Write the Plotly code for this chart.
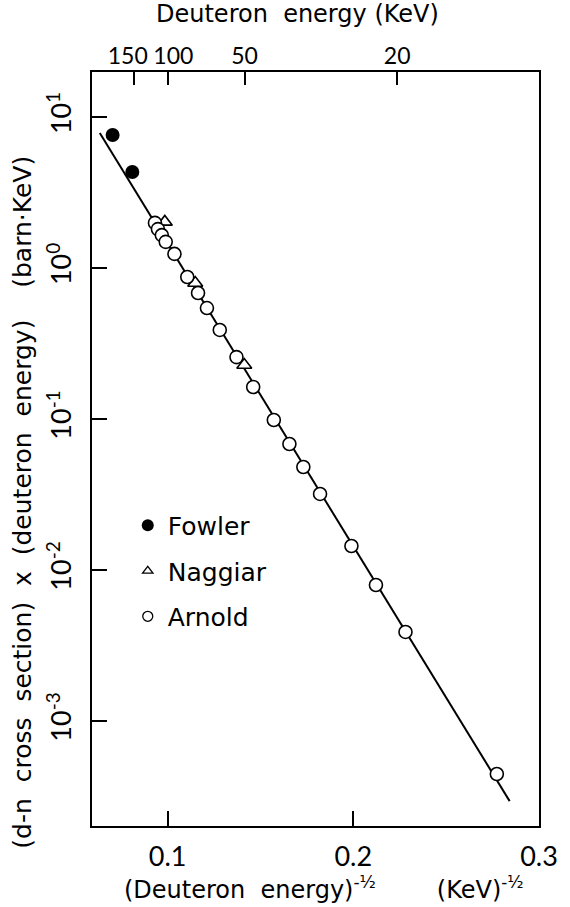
import plotly.graph_objects as go

# ---- data (x = (deuteron energy)^-1/2 in keV^-1/2, y = sigma*E in barn*keV) ----
fowler_x = [0.0704, 0.0810]
fowler_y = [7.60, 4.32]

naggiar_x = [0.0985, 0.1149, 0.1413]
naggiar_y = [2.02, 0.796, 0.228]

arnold_x = [0.0932, 0.0948, 0.0969, 0.0990, 0.1037, 0.1106, 0.1164, 0.1212,
            0.1281, 0.1371, 0.1461, 0.1572, 0.1656, 0.1731, 0.1821, 0.1990,
            0.2122, 0.2281, 0.2773]
arnold_y = [1.99, 1.81, 1.65, 1.49, 1.24, 0.872, 0.683, 0.543,
            0.389, 0.257, 0.163, 0.0985, 0.0683, 0.0481, 0.0319, 0.01442,
            0.00796, 0.00389, 0.000446]

fit_x = [0.0635, 0.2842]
fit_y = [7.83, 0.000295]

bottom_ticks = [0.1, 0.2, 0.3]
bottom_labels = ["0.1", "0.2", "0.3"]
top_energies = [150, 100, 50, 20]
top_labels = ["150\u2002", "\u2002100", "50", "20"]
y_ticks = [1e1, 1e0, 1e-1, 1e-2, 1e-3]
y_labels = ["10<sup>1</sup>", "10<sup>0</sup>", "10<sup>-1</sup>", "10<sup>-2</sup>", "10<sup>-3</sup>"]

FONT = "DejaVu Sans"
NUMFONT = "Lato"
BLACK = "black"

xr = [0.0593, 0.3]
yr_log = [-3.695, 1.298]
top_vals = [e ** -0.5 for e in top_energies]

fig = go.Figure()

fig.add_trace(go.Scatter(x=fit_x, y=fit_y, mode="lines",
                         line=dict(color=BLACK, width=2), showlegend=False,
                         hoverinfo="skip"))
fig.add_trace(go.Scatter(x=fowler_x, y=fowler_y, mode="markers", name="Fowler",
                         marker=dict(symbol="circle", size=14, color=BLACK),
                         showlegend=False))
fig.add_trace(go.Scatter(x=naggiar_x, y=naggiar_y, mode="markers", name="Naggiar",
                         marker=dict(symbol="triangle-up", size=13, color="white",
                                     line=dict(color=BLACK, width=1.6)),
                         showlegend=False))
fig.add_trace(go.Scatter(x=arnold_x, y=arnold_y, mode="markers", name="Arnold",
                         marker=dict(symbol="circle", size=13, color="white",
                                     line=dict(color=BLACK, width=1.6)),
                         showlegend=False))

# legend-only entries (smaller symbols as in the original key)
fig.add_trace(go.Scatter(x=[None], y=[None], mode="markers", name="Fowler",
                         legendgroup="f",
                         marker=dict(symbol="circle", size=12, color=BLACK)))
fig.add_trace(go.Scatter(x=[None], y=[None], mode="markers", name="Naggiar",
                         legendgroup="n",
                         marker=dict(symbol="triangle-up", size=9, color="white",
                                     line=dict(color=BLACK, width=1.3))))
fig.add_trace(go.Scatter(x=[None], y=[None], mode="markers", name="Arnold",
                         legendgroup="a",
                         marker=dict(symbol="circle", size=10, color="white",
                                     line=dict(color=BLACK, width=1.3))))

# invisible trace on top axis so it renders
fig.add_trace(go.Scatter(x=top_vals, y=[1] * len(top_vals),
                         xaxis="x2", mode="markers", marker=dict(opacity=0),
                         showlegend=False, hoverinfo="skip"))

fig.update_layout(
    width=570, height=907,
    margin=dict(l=92, r=25, t=72, b=81),
    paper_bgcolor="white", plot_bgcolor="white",
    font=dict(family=FONT, color=BLACK, size=22),
    xaxis=dict(range=xr, tickmode="array", tickvals=bottom_ticks, ticktext=bottom_labels,
               ticks="inside", ticklen=15, tickwidth=2, tickcolor=BLACK,
               showline=True, linecolor=BLACK, linewidth=1.5, mirror=True,
               showgrid=False, zeroline=False, ticklabelstandoff=6,
               tickfont=dict(size=27, family=NUMFONT)),
    xaxis2=dict(range=xr, overlaying="x", side="top", anchor="y",
                tickmode="array", tickvals=top_vals, ticktext=top_labels,
                ticks="inside", ticklen=13, tickwidth=2, tickcolor=BLACK,
                tickangle=0, showline=False, showgrid=False,
                zeroline=False, ticklabelstandoff=2,
                tickfont=dict(size=23, family=NUMFONT)),
    yaxis=dict(type="log", range=yr_log, tickmode="array",
               tickvals=y_ticks, ticktext=y_labels,
               ticks="inside", ticklen=15, tickwidth=2, tickcolor=BLACK,
               tickangle=-90, showline=True, linecolor=BLACK, linewidth=1.5,
               mirror=True, showgrid=False, zeroline=False, ticklabelstandoff=8,
               tickfont=dict(size=27, family=NUMFONT)),
    legend=dict(x=0.08, y=0.429, xanchor="left", yanchor="top",
                bgcolor="rgba(0,0,0,0)", font=dict(size=25),
                traceorder="grouped", tracegroupgap=10, itemsizing="trace"),
    annotations=[
        dict(text="Deuteron  energy (KeV)", xref="paper", yref="paper",
             x=0.46, y=1.0, yshift=42, yanchor="bottom", showarrow=False,
             font=dict(size=24)),
        dict(text="(Deuteron  energy)<sup>-½</sup>        (KeV)<sup>-½</sup>",
             xref="paper", yref="paper", x=0.52, y=0.0, yshift=-80,
             yanchor="bottom", showarrow=False, font=dict(size=24)),
        dict(text="(d-n  cross  section)  x  (deuteron  energy)    (barn·KeV)",
             xref="paper", yref="paper", x=-0.1545, y=0.43, textangle=-90,
             xanchor="center", yanchor="middle",
             showarrow=False, font=dict(size=25)),
    ],
)

fig.write_html("out.html")
